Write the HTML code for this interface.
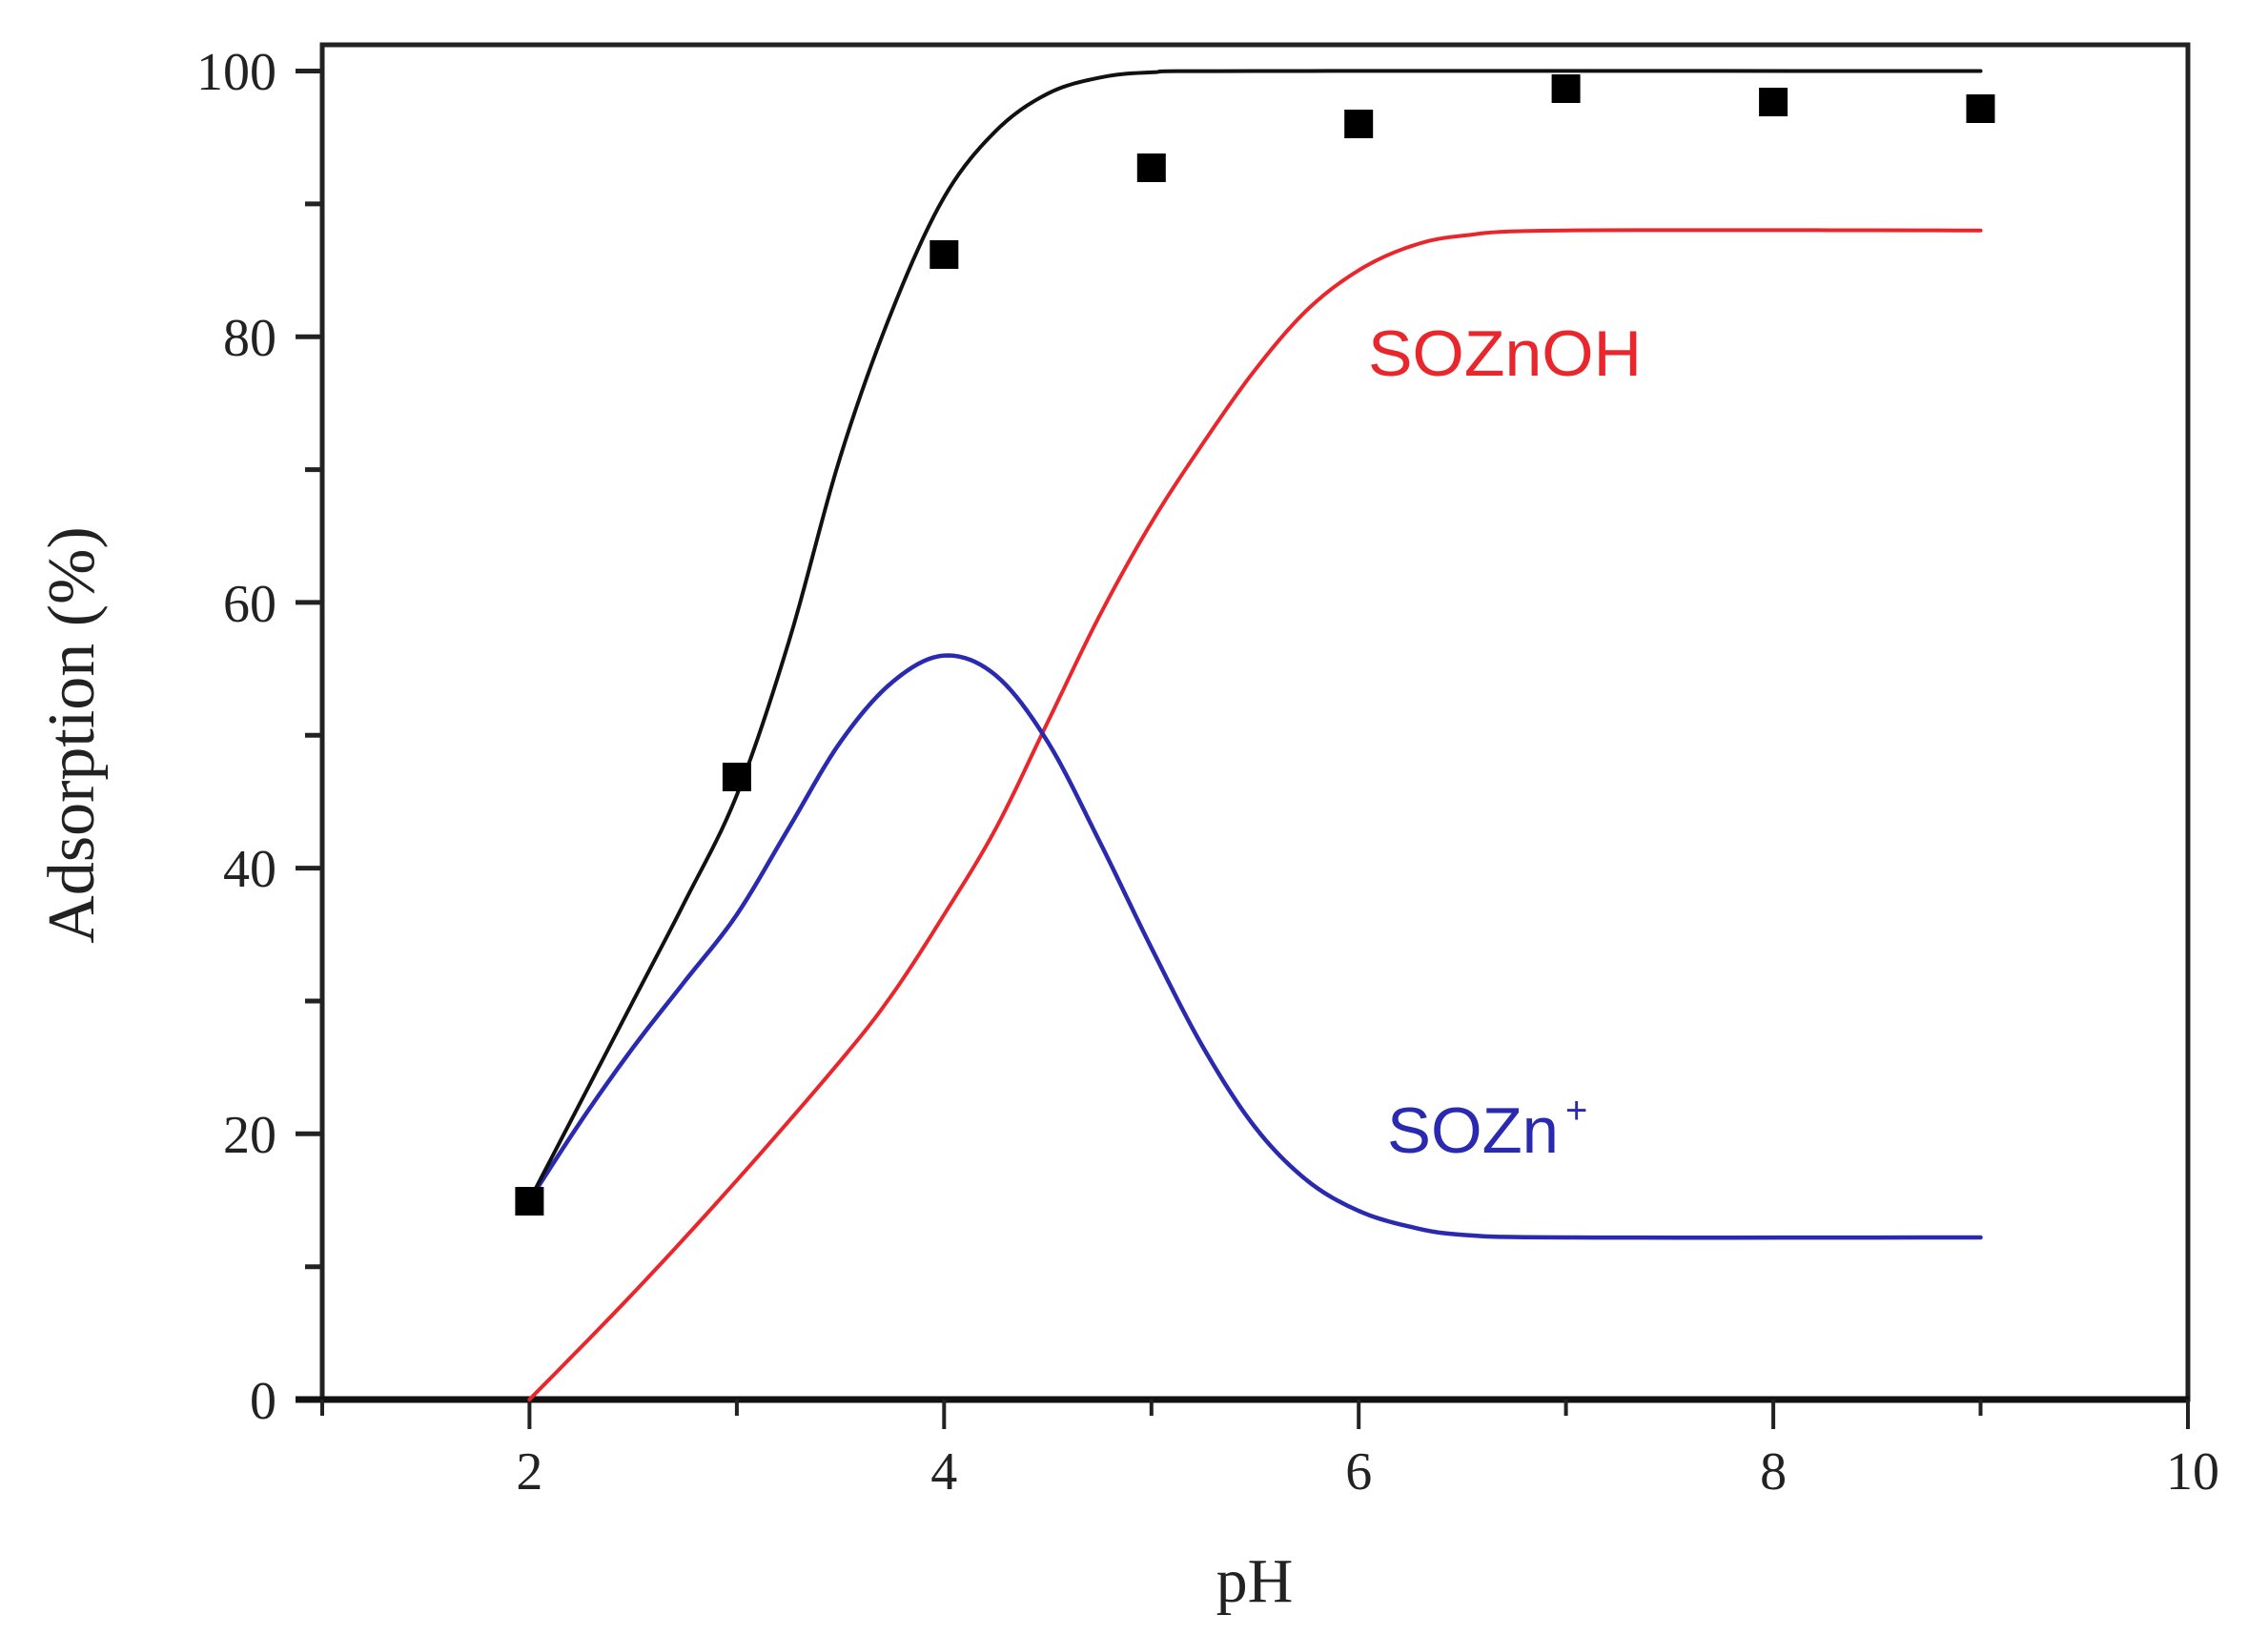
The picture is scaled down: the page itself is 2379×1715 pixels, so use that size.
<!DOCTYPE html>
<html><head><meta charset="utf-8"><style>
html,body{margin:0;padding:0;background:#fff;}
svg{display:block;}
</style></head><body>
<svg width="2379" height="1715" viewBox="0 0 2379 1715" xmlns="http://www.w3.org/2000/svg">
<rect width="2379" height="1715" fill="#fff"/>
<rect x="338" y="47" width="1957" height="1421" fill="none" stroke="#222" stroke-width="5"/>
<line x1="310" y1="1468" x2="2297" y2="1468" stroke="#111" stroke-width="7"/>
<g stroke="#222" stroke-width="5">
<line x1="310" y1="74.5" x2="338" y2="74.5"/>
<line x1="320" y1="213.9" x2="338" y2="213.9"/>
<line x1="310" y1="353.2" x2="338" y2="353.2"/>
<line x1="320" y1="492.6" x2="338" y2="492.6"/>
<line x1="310" y1="631.9" x2="338" y2="631.9"/>
<line x1="320" y1="771.3" x2="338" y2="771.3"/>
<line x1="310" y1="910.6" x2="338" y2="910.6"/>
<line x1="320" y1="1050" x2="338" y2="1050"/>
<line x1="310" y1="1189.3" x2="338" y2="1189.3"/>
<line x1="320" y1="1328.7" x2="338" y2="1328.7"/>
</g>
<g stroke="#222" stroke-width="4">
<line x1="338" y1="1468" x2="338" y2="1485"/>
<line x1="555.4" y1="1468" x2="555.4" y2="1499"/>
<line x1="772.9" y1="1468" x2="772.9" y2="1485"/>
<line x1="990.3" y1="1468" x2="990.3" y2="1499"/>
<line x1="1207.8" y1="1468" x2="1207.8" y2="1485"/>
<line x1="1425.2" y1="1468" x2="1425.2" y2="1499"/>
<line x1="1642.6" y1="1468" x2="1642.6" y2="1485"/>
<line x1="1860.1" y1="1468" x2="1860.1" y2="1499"/>
<line x1="2077.5" y1="1468" x2="2077.5" y2="1485"/>
<line x1="2295" y1="1468" x2="2295" y2="1499"/>
</g>
<g font-family="Liberation Serif, serif" font-size="56" fill="#222" text-anchor="end">
<text x="290" y="94">100</text>
<text x="290" y="373">80</text>
<text x="290" y="652">60</text>
<text x="290" y="930">40</text>
<text x="290" y="1209">20</text>
<text x="290" y="1488">0</text>
</g>
<g font-family="Liberation Serif, serif" font-size="56" fill="#222" text-anchor="middle">
<text x="555.4" y="1562">2</text>
<text x="990.3" y="1562">4</text>
<text x="1425.2" y="1562">6</text>
<text x="1860.1" y="1562">8</text>
<text x="2300" y="1562">10</text>
</g>
<text x="1316" y="1680" font-family="Liberation Serif, serif" font-size="66" fill="#222" text-anchor="middle">pH</text>
<text transform="translate(98,771) rotate(-90)" font-family="Liberation Serif, serif" font-size="70" fill="#222" text-anchor="middle">Adsorption (%)</text>
<g transform="translate(338,1468) scale(217.44,-13.935) translate(-1,0)" fill="none" stroke-linejoin="round" stroke-linecap="round">
<polyline class="c" vector-effect="non-scaling-stroke" stroke="#e8262b" stroke-width="4" points="2,0 2.5,8 3,16.5 3.5,25.5 3.75,30.5 4,36.5 4.25,43 4.5,51 4.75,59 5,66 5.25,72 5.5,77.5 5.75,82 6,85 6.25,86.8 6.5,87.6 7,88 9,88"/>
<polyline class="c" vector-effect="non-scaling-stroke" stroke="#2a2ab0" stroke-width="4.5" points="2,15 2.25,21 2.5,26.5 2.75,31.5 3,36.5 3.25,43 3.5,49.5 3.75,54 4,56 4.25,54.5 4.5,49.5 4.75,42 5,34 5.25,26.5 5.5,20.5 5.75,16.5 6,14.2 6.25,13 6.5,12.4 7,12.2 9,12.2"/>
<polyline class="c" vector-effect="non-scaling-stroke" stroke="#111" stroke-width="4" points="2,15 2.25,22.5 2.5,30 2.75,37.5 3,45.5 3.25,57 3.5,71 3.75,82 4,90.5 4.25,95.5 4.5,98.3 4.75,99.5 5,99.9 5.5,100 9,100"/>
</g>
<g fill="#000">
<rect x="540.4" y="1245" width="30" height="30"/>
<rect x="757.9" y="800" width="30" height="30"/>
<rect x="975.3" y="252" width="30" height="30"/>
<rect x="1192.8" y="161" width="30" height="30"/>
<rect x="1410.2" y="115" width="30" height="30"/>
<rect x="1627.6" y="78" width="30" height="30"/>
<rect x="1845.1" y="92" width="30" height="30"/>
<rect x="2062.5" y="99" width="30" height="30"/>
</g>
<text x="1435" y="394" font-family="Liberation Sans, sans-serif" font-size="68" fill="#e8262b" textLength="287" lengthAdjust="spacingAndGlyphs">SOZnOH</text>
<text x="1455" y="1209" font-family="Liberation Sans, sans-serif" font-size="68" fill="#2a2ab0" textLength="180" lengthAdjust="spacingAndGlyphs">SOZn</text>
<text x="1642" y="1178" font-family="Liberation Sans, sans-serif" font-size="40" fill="#2a2ab0">+</text>
</svg>
<script>
document.querySelectorAll('polyline.c').forEach(function(pl){
  var p=pl.getAttribute('points').trim().split(/\s+/).map(function(s){return s.split(',').map(Number);});
  var out=[];
  for(var i=0;i<p.length-1;i++){
    var p0=p[Math.max(0,i-1)],p1=p[i],p2=p[i+1],p3=p[Math.min(p.length-1,i+2)];
    for(var k=0;k<10;k++){
      var t=k/10,t2=t*t,t3=t2*t;
      var f=function(a,b,c,d){return 0.5*((2*b)+(-a+c)*t+(2*a-5*b+4*c-d)*t2+(-a+3*b-3*c+d)*t3);};
      out.push(f(p0[0],p1[0],p2[0],p3[0]).toFixed(4)+','+f(p0[1],p1[1],p2[1],p3[1]).toFixed(3));
    }
  }
  out.push(p[p.length-1].join(','));
  pl.setAttribute('points',out.join(' '));
});
</script>
</body></html>
